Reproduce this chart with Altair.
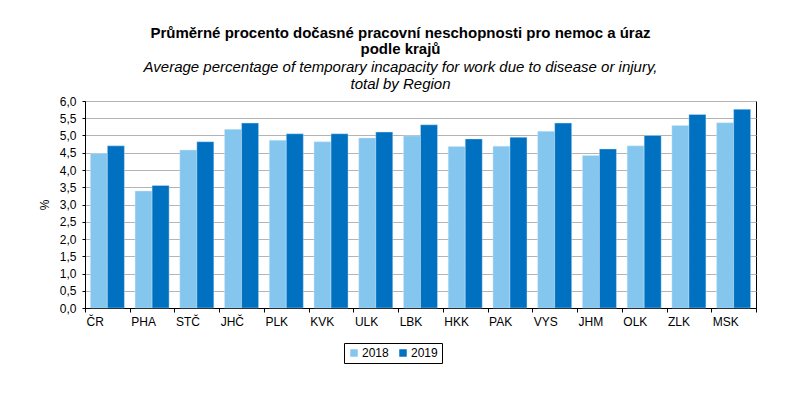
import altair as alt
import pandas as pd

regions = ["ČR", "PHA", "STČ", "JHČ", "PLK", "KVK", "ULK", "LBK", "HKK", "PAK", "VYS", "JHM", "OLK", "ZLK", "MSK"]
v2018 = [4.48, 3.39, 4.58, 5.18, 4.86, 4.82, 4.93, 4.99, 4.68, 4.69, 5.12, 4.42, 4.70, 5.29, 5.37]
v2019 = [4.70, 3.55, 4.82, 5.36, 5.05, 5.05, 5.10, 5.31, 4.90, 4.95, 5.36, 4.61, 5.00, 5.61, 5.76]
years = ["2018", "2019"]
colors = ["#85C6EE", "#0070C0"]
y_ticks = [0, 0.5, 1, 1.5, 2, 2.5, 3, 3.5, 4, 4.5, 5, 5.5, 6]

title_lines = ["Průměrné procento dočasné pracovní neschopnosti pro nemoc a úraz", "podle krajů"]
subtitle_lines = ["Average percentage of temporary incapacity for work due to disease or injury,", "total by Region"]

rows = []
for r, a, b in zip(regions, v2018, v2019):
    rows.append({"region": r, "year": years[0], "value": a})
    rows.append({"region": r, "year": years[1], "value": b})
df = pd.DataFrame(rows)

label_df = pd.DataFrame({
    "region": regions,
    "label": [("\u00a0\u00a0\u00a0" + r) if r == "PHA" else r for r in regions],
})

FONT = "Liberation Sans"
W, H = 671, 207
STEP = W / len(regions)

x_enc = alt.X("region:N", sort=regions,
              scale=alt.Scale(paddingInner=0, paddingOuter=0),
              axis=alt.Axis(title=None, labels=False, ticks=True, tickBand="extent",
                            tickSize=4, tickColor="black", domainColor="black",
                            grid=False))

bars = alt.Chart(df).mark_bar(stroke="#D2EAF9", strokeWidth=0.6, strokeOpacity=0.7).encode(
    x=x_enc,
    xOffset=alt.XOffset("year:N", sort=years,
                        scale=alt.Scale(paddingInner=0, paddingOuter=0.315)),
    y=alt.Y("value:Q", scale=alt.Scale(domain=[0, 6], nice=False),
            axis=alt.Axis(title="%", values=y_ticks,
                          labelExpr="replace(format(datum.value, '.1f'), '.', ',')",
                          labelFontSize=12, labelColor="black", labelPadding=6,
                          tickSize=3, tickColor="black", domainColor="black",
                          gridColor="#B4B4B4", gridWidth=1,
                          titleFontSize=12, titleFontWeight="normal", titleColor="black",
                          titlePadding=8)),
    color=alt.Color("year:N", sort=years,
                    scale=alt.Scale(domain=years, range=colors),
                    legend=alt.Legend(title=None, orient="none", legendX=259, legendY=242,
                                      direction="horizontal", symbolType="square",
                                      symbolSize=56, symbolStrokeWidth=0,
                                      labelFontSize=12, labelColor="black",
                                      labelOffset=2, columnPadding=8,
                                      strokeColor="black", padding=4)),
)

labels = alt.Chart(label_df).mark_text(
    align="left", baseline="alphabetic", dx=-STEP / 2 + 1.5, fontSize=12, color="black", font=FONT
).encode(
    x=alt.X("region:N", sort=regions),
    y=alt.value(H + 18),
    text="label:N",
)

chart = alt.layer(bars, labels).properties(
    width=W,
    height=H,
    autosize=alt.AutoSizeParams(type="none"),
    padding={"left": 77, "top": 93, "right": 20, "bottom": 60},
    title=alt.TitleParams(text=title_lines, subtitle=subtitle_lines,
                          fontSize=15, fontWeight="bold", color="black",
                          subtitleFontSize=15, subtitleFontStyle="italic",
                          subtitleColor="black", subtitleFont=FONT,
                          lineHeight=16, subtitleLineHeight=17, subtitlePadding=3,
                          anchor="middle", dx=-20, offset=3),
).configure(
    font=FONT
).configure_view(
    stroke="black", strokeWidth=1
)

chart.save("out.html", embed_options={"renderer": "svg", "actions": False})
